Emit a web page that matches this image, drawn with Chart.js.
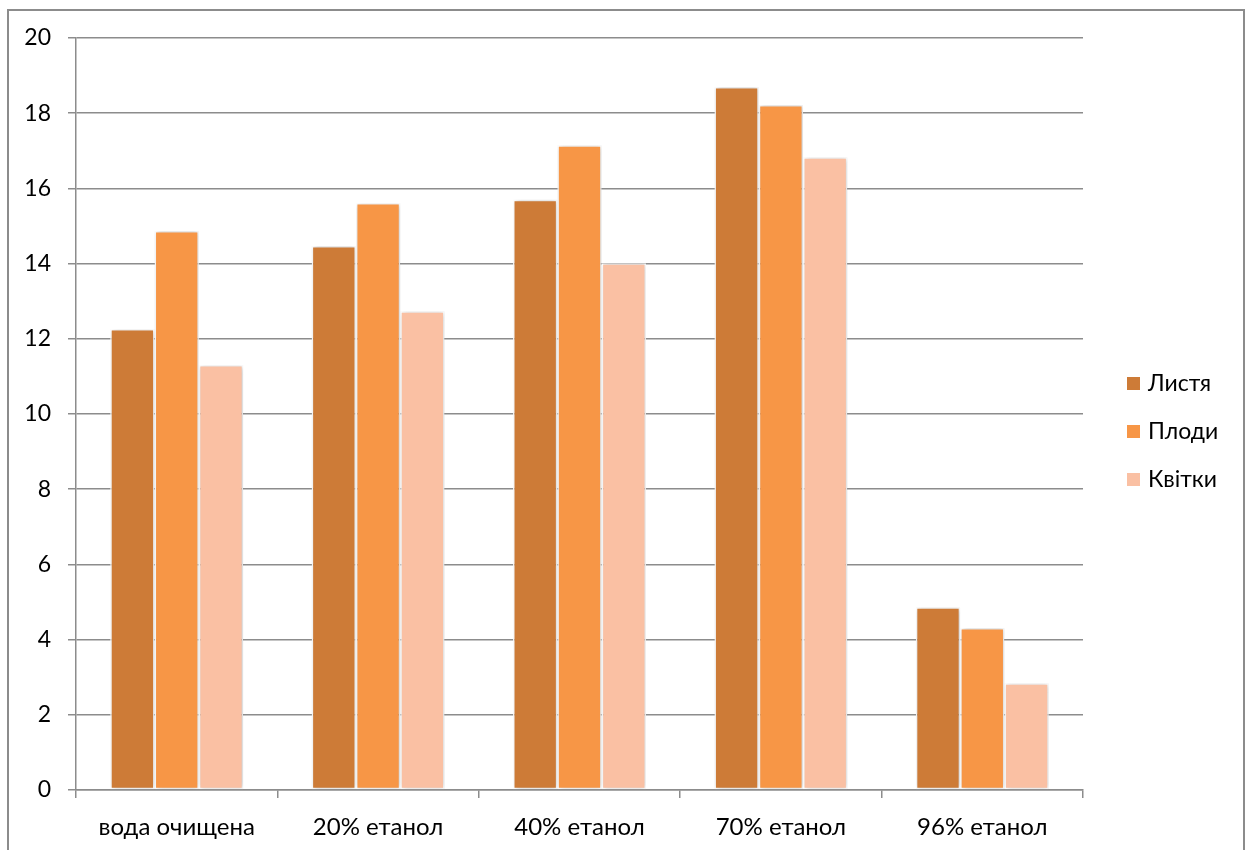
<!DOCTYPE html>
<html>
<head>
<meta charset="utf-8">
<script src="https://cdn.jsdelivr.net/npm/chart.js@4.4.0/dist/chart.umd.min.js"></script>
<style>
    html, body { margin: 0; padding: 0; background: #fff; overflow: hidden; }
    #wrap { position: relative; width: 1253px; height: 850px; }
    #frame {
        position: absolute; left: 7px; top: 9px; width: 1238px; height: 900px;
        border: 2px solid #8c8c8c; box-sizing: border-box; pointer-events: none;
    }
</style>
</head>
<body>
<div id="wrap">
    <canvas id="chart" width="1253" height="850"></canvas>
    <div id="frame"></div>
</div>
<script>
const categories = ["вода очищена", "20% етанол", "40% етанол", "70% етанол", "96% етанол"]
const leaves = [12.26, 14.47, 15.70, 18.70, 4.86]
const fruits = [14.87, 15.61, 17.15, 18.22, 4.31]
const flowers = [11.30, 12.73, 14.01, 16.83, 2.84]
const seriesNames = ["Листя", "Плоди", "Квітки"]
const seriesColors = ["#cd7b37", "#f79646", "#fac0a3"]

const font = { family: "Lato, 'Noto Sans', sans-serif", size: 23 }
const catFont = { family: font.family, size: 24 }

// bars get a soft shadow like the office chart
const barShadow = {
    id: "barShadow",
    beforeDatasetsDraw(chart) {
        const ctx = chart.ctx
        ctx.save()
        ctx.shadowColor = "rgba(0,0,0,0.22)"
        ctx.shadowBlur = 5
        ctx.shadowOffsetX = 1
        ctx.shadowOffsetY = 0
    },
    afterDatasetsDraw(chart) {
        chart.ctx.restore()
    }
}

// legend on the right, drawn by hand so it sits where the original has it
const sideLegend = {
    id: "sideLegend",
    afterDraw(chart) {
        const ctx = chart.ctx
        const area = chart.chartArea
        const x = area.right + 44
        const midY = (area.top + area.bottom) / 2 + 17
        ctx.save()
        ctx.font = `${font.size}px ${font.family}`
        ctx.textBaseline = "middle"
        chart.data.datasets.forEach((ds, i) => {
            const y = midY + (i - 1) * 48
            ctx.fillStyle = ds.backgroundColor
            ctx.fillRect(x, y - 6, 13, 13)
            ctx.fillStyle = "#000"
            ctx.fillText(ds.label, x + 21, y + 1)
        })
        ctx.restore()
    }
}

const values = [leaves, fruits, flowers]

new Chart("chart", {
    type: "bar",
    data: {
        labels: categories,
        datasets: values.map((v, i) => ({
            label: seriesNames[i],
            data: v,
            backgroundColor: seriesColors[i],
            borderColor: "#ffffff",
            borderWidth: 1.5,
            borderSkipped: false,
            categoryPercentage: 0.66,
            barPercentage: 1.0
        }))
    },
    options: {
        responsive: false,
        animation: false,
        events: [],
        layout: { padding: { top: 38, right: 170, left: 0, bottom: 0 } },
        plugins: {
            legend: { display: false },
            tooltip: { enabled: false }
        },
        scales: {
            x: {
                offset: true,
                grid: {
                    offset: true,
                    drawOnChartArea: false,
                    drawTicks: true,
                    tickLength: 8,
                    color: "#8c8c8c",
                    lineWidth: 1.5
                },
                border: { display: true, color: "#8c8c8c", width: 1.5 },
                ticks: { color: "#000", font: catFont, padding: 15, maxRotation: 0 },
                afterFit: s => { s.height = 60 }
            },
            y: {
                min: 0,
                max: 20,
                ticks: { stepSize: 2, color: "#000", font: font, padding: 17 },
                grid: { color: "#8c8c8c", lineWidth: 1.5, tickLength: 8 },
                border: { display: true, color: "#8c8c8c", width: 1.5 },
                afterFit: s => { s.width = 76 }
            }
        }
    },
    plugins: [barShadow, sideLegend]
})
</script>
</body>
</html>
